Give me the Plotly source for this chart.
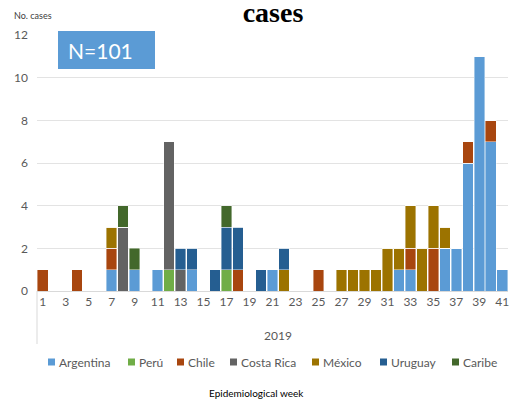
import plotly.graph_objects as go

weeks = list(range(1, 42))
tick_weeks = list(range(1, 42, 2))

argentina = [0,0,0,0,0,0,1,0,1,0, 1,0,0,1,0,0,0,0,0,0, 1,0,0,0,0,0,0,0,0,0, 0,1,1,0,0,2,2,6,11,7, 1]
peru      = [0,0,0,0,0,0,0,0,0,0, 0,1,0,0,0,0,1,0,0,0, 0,0,0,0,0,0,0,0,0,0, 0,0,0,0,0,0,0,0,0,0, 0]
chile     = [1,0,0,1,0,0,1,0,0,0, 0,0,0,0,0,0,0,1,0,0, 0,0,0,0,1,0,0,0,0,0, 0,0,1,0,2,0,0,1,0,1, 0]
costa_rica= [0,0,0,0,0,0,0,3,0,0, 0,6,1,0,0,0,0,0,0,0, 0,0,0,0,0,0,0,0,0,0, 0,0,0,0,0,0,0,0,0,0, 0]
mexico    = [0,0,0,0,0,0,1,0,0,0, 0,0,0,0,0,0,0,0,0,0, 0,1,0,0,0,0,1,1,1,1, 2,1,2,2,2,1,0,0,0,0, 0]
uruguay   = [0,0,0,0,0,0,0,0,0,0, 0,0,1,1,0,1,2,2,0,1, 0,1,0,0,0,0,0,0,0,0, 0,0,0,0,0,0,0,0,0,0, 0]
caribe    = [0,0,0,0,0,0,0,1,1,0, 0,0,0,0,0,0,1,0,0,0, 0,0,0,0,0,0,0,0,0,0, 0,0,0,0,0,0,0,0,0,0, 0]

series_names = ["Argentina", "Perú", "Chile", "Costa Rica", "México", "Uruguay", "Caribe"]
series_values = [argentina, peru, chile, costa_rica, mexico, uruguay, caribe]
series_colors = ["#5B9BD5", "#70AD47", "#A8460F", "#636363", "#9C7300", "#255E91", "#43682B"]

FONT = "Lato, 'Open Sans', sans-serif"
GREY = "#595959"

# plot area geometry (pixels)
PL, PR, PT, PB = 37, 508, 35, 291
PW, PH = PR - PL, PB - PT

def px_x(x):
    return (x - PL) / PW

def px_y(y):
    return (PB - y) / PH

# legend swatch left edges (px) in the reference
legend_swatch_px = [48, 128, 177, 230, 312, 380, 452]
LEG_Y = 362
SW = 7

fig = go.Figure()
for name, vals, col in zip(series_names, series_values, series_colors):
    fig.add_trace(go.Bar(
        x=weeks, y=vals, name=name, showlegend=False,
        marker=dict(color=col, line=dict(color="rgba(255,255,255,0.7)", width=0.6)),
    ))

fig.update_layout(
    width=510, height=400,
    barmode="stack", bargap=0.08,
    margin=dict(l=PL, r=510 - PR, t=PT, b=400 - PB, autoexpand=False),
    plot_bgcolor="white", paper_bgcolor="white",
    font=dict(family=FONT, size=12, color=GREY),
    title=dict(text="<b>cases</b>", x=273 / 510, xanchor="center", y=1 - 12.5 / 400, yanchor="middle",
               font=dict(family="'Liberation Serif', 'DejaVu Serif', serif", size=28, color="black")),
    xaxis=dict(range=[0.5, 41.5], tickvals=tick_weeks, ticktext=[str(w) for w in tick_weeks],
               showgrid=False, showline=True, linecolor="#D9D9D9", linewidth=1, automargin=False,
               ticks="", tickfont=dict(size=12, color=GREY), zeroline=False),
    yaxis=dict(range=[0, 12], dtick=2, showgrid=True, gridcolor="#E3E3E3", gridwidth=1,
               zeroline=False, showline=False, ticks="", tickfont=dict(size=12, color=GREY),
               ticklabelstandoff=8, automargin=False),
)

# legend (swatches + labels)
for name, col, sx in zip(series_names, series_colors, legend_swatch_px):
    fig.add_shape(type="rect", xref="paper", yref="paper",
                  x0=px_x(sx), x1=px_x(sx + SW), y0=px_y(LEG_Y + SW / 2), y1=px_y(LEG_Y - SW / 2),
                  fillcolor=col, line=dict(width=0))
    fig.add_annotation(text=name, xref="paper", yref="paper", x=px_x(sx + SW + 2), y=px_y(LEG_Y),
                       xanchor="left", yanchor="middle", showarrow=False,
                       font=dict(size=12, color=GREY))

fig.add_annotation(text="No. cases", xref="paper", yref="paper", x=px_x(12), y=px_y(15),
                   xanchor="left", yanchor="middle", showarrow=False,
                   font=dict(size=9, color="#404040"))
fig.add_annotation(text="2019", xref="paper", yref="paper", x=px_x(278), y=px_y(335),
                   xanchor="center", yanchor="middle", showarrow=False,
                   font=dict(size=12, color=GREY))
fig.add_annotation(text="Epidemiological week", xref="paper", yref="paper", x=px_x(256), y=px_y(393),
                   xanchor="center", yanchor="middle", showarrow=False,
                   font=dict(size=10, color="black"))

fig.add_shape(type="rect", xref="paper", yref="paper", x0=px_x(58), x1=px_x(155), y0=px_y(69), y1=px_y(31),
              fillcolor="#5B9BD5", line=dict(width=0), layer="above")
fig.add_annotation(text="N=101", xref="paper", yref="paper", x=px_x(66), y=px_y(50),
                   xanchor="left", yanchor="middle", showarrow=False,
                   font=dict(size=21, color="white"))
fig.add_shape(type="line", xref="paper", yref="paper", x0=0, x1=0, y0=0, y1=px_y(344),
              line=dict(color="#D9D9D9", width=1))

fig.write_html("out.html", config={"displayModeBar": False},
               post_script="document.body.style.margin='0';")
